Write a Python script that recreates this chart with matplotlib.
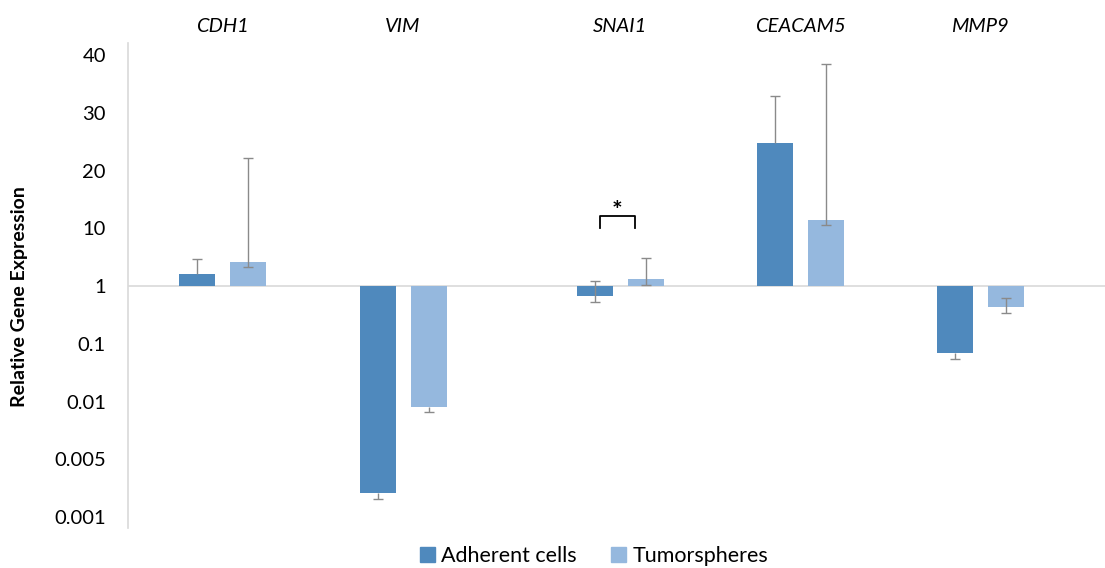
import numpy as np
import matplotlib
matplotlib.use("Agg")
import matplotlib.pyplot as plt
from matplotlib.patches import Patch
from matplotlib.ticker import NullLocator

# ---------------- data ----------------
genes = ["CDH1", "VIM", "SNAI1", "CEACAM5", "MMP9"]
adherent = [1.61, 0.00195, 0.671, 24.3, 0.0692]
adherent_lo = [1.61, 0.00165, 0.528, 24.3, 0.0545]
adherent_hi = [2.94, 0.00195, 1.22, 32.6, 0.0692]
tumor = [2.61, 0.00935, 1.32, 11.0, 0.433]
tumor_lo = [2.13, 0.00881, 1.04, 10.4, 0.340]
tumor_hi = [21.8, 0.00935, 3.05, 38.2, 0.62]
tick_values = [0.001, 0.005, 0.01, 0.1, 1, 10, 20, 30, 40]
tick_labels = ["0.001", "0.005", "0.01", "0.1", "1", "10", "20", "30", "40"]
series_names = ["Adherent cells", "Tumorspheres"]
sig_marker = "*"

# ---------------- scale: evenly spaced custom ticks ----------------
lt = np.log10(tick_values)
idx = np.arange(len(tick_values), dtype=float)
lo_ext = lt[0] - 3 * (lt[1] - lt[0])
hi_ext = lt[-1] + 3 * (lt[-1] - lt[-2])
xp = np.concatenate([[lo_ext], lt, [hi_ext]])
fp = np.concatenate([[-3.0], idx, [idx[-1] + 3.0]])


def fwd(v):
    v = np.asarray(v, dtype=float)
    lv = np.log10(np.clip(v, 1e-12, None))
    return np.interp(lv, xp, fp)


def inv(p):
    p = np.asarray(p, dtype=float)
    return 10 ** np.interp(p, fp, xp)


# ---------------- figure ----------------
plt.rcParams["font.family"] = ["Lato", "DejaVu Sans"]
W, H = 1105, 568
fig = plt.figure(figsize=(W / 100, H / 100), dpi=100)
ax = fig.add_axes([128 / W, 1 - 528 / H, (W - 128) / W, (528 - 43) / H])

ax.set_yscale("function", functions=(fwd, inv))
ax.set_ylim(inv(-0.19), inv(8.21))

ax.set_xlim(128, W)
group_pos = np.array([222, 403, 620, 800, 980], dtype=float)
offset = 25.5
bw = 36

c_adh = "#4f89bd"
c_tum = "#95b8de"
c_err = "#8a8a8a"

xa = group_pos - offset
xt = group_pos + offset
ax.bar(xa, np.array(adherent) - 1, bottom=1, width=bw, color=c_adh, zorder=2)
ax.bar(xt, np.array(tumor) - 1, bottom=1, width=bw, color=c_tum, zorder=2)

cap = 5


def draw_err(xs, vals, los, his):
    for x, v, lo, hi in zip(xs, vals, los, his):
        ax.vlines(x, lo, hi, color=c_err, lw=1.0, zorder=3)
        if lo != v:
            ax.hlines(lo, x - cap, x + cap, color=c_err, lw=1.0, zorder=3)
        if hi != v:
            ax.hlines(hi, x - cap, x + cap, color=c_err, lw=1.0, zorder=3)


draw_err(xa, adherent, adherent_lo, adherent_hi)
draw_err(xt, tumor, tumor_lo, tumor_hi)

ax.axhline(1, color="#d9d9d9", lw=1.2, zorder=1)

# significance bracket for SNAI1
i = genes.index("SNAI1")
bx0, bx1 = xa[i] + 5, xt[i] - 11
ax.plot([bx0, bx0, bx1, bx1], [10.0, 11.58, 11.58, 10.0], color="black", lw=1.3, zorder=4)
ax.text((bx0 + bx1) / 2, 12.3, sig_marker, ha="center", va="center", fontsize=18,
        fontweight="bold", zorder=4)

for s in ["top", "right", "bottom"]:
    ax.spines[s].set_visible(False)
ax.spines["left"].set_color("#d9d9d9")
ax.spines["left"].set_linewidth(1.2)

ax.set_yticks(tick_values)
ax.set_yticklabels(tick_labels)
ax.yaxis.set_minor_locator(NullLocator())
ax.tick_params(axis="y", length=0, pad=16, labelsize=14.5, labelcolor="#000000")

ax.xaxis.tick_top()
ax.set_xticks(group_pos)
ax.set_xticklabels(genes, fontstyle="italic")
ax.tick_params(axis="x", length=0, pad=6, labelsize=14.5)

fig.text(20 / W, 1 - 297 / H, "Relative Gene Expression", rotation=90, ha="center",
         va="center", fontsize=14, fontweight="bold")

handles = [Patch(color=c_adh), Patch(color=c_tum)]
fig.legend(handles, series_names, loc="center", bbox_to_anchor=(594 / W, 1 - 556 / H),
           ncol=2, frameon=False, fontsize=15.5, handlelength=0.7, handleheight=0.7,
           handletextpad=0.3, columnspacing=1.6)

fig.savefig("out.png", dpi=100)
